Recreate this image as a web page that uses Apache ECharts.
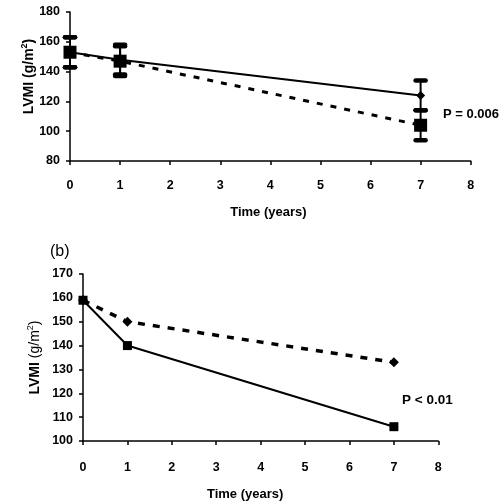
<!DOCTYPE html>
<html><head><meta charset="utf-8">
<script src="https://cdn.jsdelivr.net/npm/echarts@6/dist/echarts.min.js"></script>
<style>html,body{margin:0;padding:0;background:#fff}#c{width:500px;height:502px}</style>
</head><body><div id="c"></div>
<script>
// ---- data ----
const years = [0, 1, 7];
const topSolid = [153, 148, 124];
const topSolidErr = [10, 10, 10];
const topDashed = [153, 147, 104];
const topDashedErr = [10, 10, 10];
const bottomSolid = [159, 140, 106];
const bottomDashed = [159, 150, 133];
const xTicks = [0, 1, 2, 3, 4, 5, 6, 7, 8];
const topYTicks = [80, 100, 120, 140, 160, 180];
const bottomYTicks = [100, 110, 120, 130, 140, 150, 160, 170];
const yNameMain = 'LVMI';
const yNameUnit = '(g/m';
const yNameSup = '2';
const xName = 'Time (years)';
const panelB = '(b)';
const pTop = 'P = 0.006';
const pBottom = 'P < 0.01';

const FONT = '"Liberation Sans", Arial, sans-serif';
const pairs = (ys) => years.map((x, i) => [x, ys[i]]);
const errs = (ys, e) => years.map((x, i) => [x, ys[i] - e[i], ys[i] + e[i]]);

function errItem(params, api) {
  const x = api.value(0);
  const lo = api.coord([x, api.value(1)]);
  const hi = api.coord([x, api.value(2)]);
  const w = 5;
  const st = { stroke: '#000', lineWidth: 2 };
  const cap = { stroke: '#000', lineWidth: 4.5, lineCap: 'round' };
  return { type: 'group', children: [
    { type: 'line', shape: { x1: lo[0], y1: lo[1], x2: hi[0], y2: hi[1] }, style: st },
    { type: 'line', shape: { x1: lo[0] - w, y1: lo[1], x2: lo[0] + w, y2: lo[1] }, style: cap },
    { type: 'line', shape: { x1: hi[0] - w, y1: hi[1], x2: hi[0] + w, y2: hi[1] }, style: cap }
  ]};
}

const axisLine = { show: true, lineStyle: { color: '#000', width: 1.5 } };
const axisTick = { show: true, inside: false, length: 4, lineStyle: { color: '#000', width: 1.5 } };
function xAxis(gi, margin, gap, pad) {
  return { type: 'value', gridIndex: gi, min: 0, max: 8, interval: 1,
    axisLine, axisTick, splitLine: { show: false },
    axisLabel: { color: '#000', fontFamily: FONT, fontWeight: 'bold', fontSize: 12.5, margin },
    name: xName, nameLocation: 'middle', nameGap: gap, nameMoveOverlap: false,
    nameTextStyle: { color: '#000', fontFamily: FONT, fontWeight: 'bold', fontSize: 13, padding: pad } };
}
function yAxis(gi, min, max, iv, gap, pad, unitWeight) {
  return { type: 'value', gridIndex: gi, min, max, interval: iv,
    axisLine, axisTick, splitLine: { show: false },
    axisLabel: { color: '#000', fontFamily: FONT, fontWeight: 'bold', fontSize: 12.5, margin: 10 },
    name: '{m|' + yNameMain + '} {u|' + yNameUnit + '}{s|' + yNameSup + '}{u|)}',
    nameLocation: 'middle', nameGap: gap, nameRotate: 90, nameMoveOverlap: false,
    nameTextStyle: { color: '#000', fontFamily: FONT, fontWeight: 'bold', fontSize: 14, padding: pad,
      rich: {
        m: { fontFamily: FONT, fontWeight: 'bold', fontSize: 14, color: '#000', verticalAlign: 'bottom', lineHeight: 16 },
        u: { fontFamily: FONT, fontWeight: unitWeight, fontSize: 14, color: '#000', verticalAlign: 'bottom', lineHeight: 16 },
        s: { fontFamily: FONT, fontWeight: unitWeight, fontSize: 9, color: '#000', verticalAlign: 'top', lineHeight: 16 }
      } } };
}

const chart = echarts.init(document.getElementById('c'), null, { renderer: 'canvas' });
chart.setOption({
  animation: false,
  backgroundColor: '#fff',
  grid: [
    { left: 70, top: 12, width: 400.7, height: 149 },
    { left: 83, top: 274, width: 355.3, height: 172.7 }
  ],
  xAxis: [xAxis(0, 18, 45, [0, 4, 0, 0]), xAxis(1, 20, 47, [0, 31, 0, 0])],
  yAxis: [yAxis(0, 80, 180, 20, 34, [0, 0, 0, 20], 'bold'), yAxis(1, 100, 170, 10, 41, [0, 0, 0, 0], 'normal')],
  graphic: [
    { type: 'text', left: 50, top: 244, style: { text: panelB, font: '16px ' + FONT, fill: '#000' } },
    { type: 'text', left: 443, top: 108, style: { text: pTop, font: 'bold 13px ' + FONT, fill: '#000' } },
    { type: 'text', left: 402, top: 393, style: { text: pBottom, font: 'bold 13.5px ' + FONT, fill: '#000' } }
  ],
  series: [
    { type: 'custom', xAxisIndex: 0, yAxisIndex: 0, data: errs(topSolid, topSolidErr), renderItem: errItem, z: 2 },
    { type: 'custom', xAxisIndex: 0, yAxisIndex: 0, data: errs(topDashed, topDashedErr), renderItem: errItem, z: 2 },
    { type: 'line', xAxisIndex: 0, yAxisIndex: 0, data: pairs(topSolid), symbol: 'diamond', symbolSize: 9,
      lineStyle: { color: '#000', width: 2 }, itemStyle: { color: '#000' }, z: 3 },
    { type: 'line', xAxisIndex: 0, yAxisIndex: 0, data: pairs(topDashed), symbol: 'rect', symbolSize: 13,
      lineStyle: { color: '#000', width: 3, type: [6, 8] }, itemStyle: { color: '#000' }, z: 4 },
    { type: 'line', xAxisIndex: 1, yAxisIndex: 1, data: pairs(bottomSolid), symbol: 'rect', symbolSize: 9,
      lineStyle: { color: '#000', width: 2 }, itemStyle: { color: '#000' }, z: 4 },
    { type: 'line', xAxisIndex: 1, yAxisIndex: 1, data: pairs(bottomDashed), symbol: 'diamond', symbolSize: 10,
      lineStyle: { color: '#000', width: 3.5, type: [7, 8] }, itemStyle: { color: '#000' }, z: 3 }
  ]
});
</script></body></html>
